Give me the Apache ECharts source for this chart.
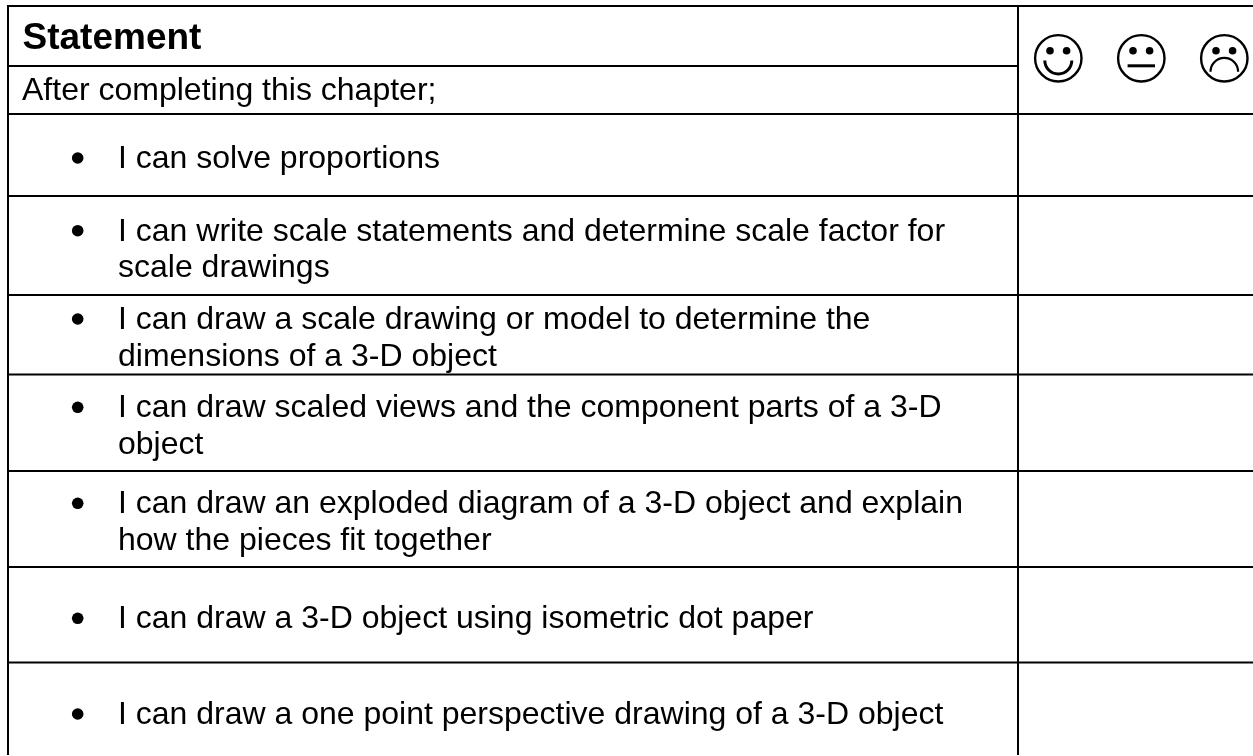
<!DOCTYPE html>
<html>
<head>
<meta charset="utf-8">
<style>html,body{margin:0;padding:0;background:#fff;overflow:hidden}#main{width:1253px;height:756px}</style>
<script src="https://cdn.jsdelivr.net/npm/echarts@6/dist/echarts.min.js"></script>
</head>
<body>
<div id="main"></div>
<script>
// table content
const headerTitle = 'Statement';
const headerSub = 'After completing this chapter;';
const statements = [
    ['I can solve proportions'],
    ['I can write scale statements and determine scale factor for', 'scale drawings'],
    ['I can draw a scale drawing or model to determine the', 'dimensions of a 3-D object'],
    ['I can draw scaled views and the component parts of a 3-D', 'object'],
    ['I can draw an exploded diagram of a 3-D object and explain', 'how the pieces fit together'],
    ['I can draw a 3-D object using isometric dot paper'],
    ['I can draw a one point perspective drawing of a 3-D object']
];
const faces = ['smile', 'neutral', 'frown'];
// where the rules and first text lines sit on the sheet
const ruleRows = [6, 114, 196, 295, 374.5, 471, 567, 662.5];
const ruleColumns = [8, 1018];
const firstBaselines = [168, 240.7, 329, 417.3, 513.3, 628.3, 724];

const chart = echarts.init(document.getElementById('main'), null, { renderer: 'canvas' });
const FONT = '"Liberation Sans", Arial, sans-serif';
const lineStyle = { stroke: '#000', lineWidth: 2 };

function textAt(api, x, baseline, str, size, weight) {
    const p = api.coord([x, baseline - size * 0.27]);
    return {
        type: 'text',
        style: { x: p[0], y: p[1], text: str, fill: '#000', font: (weight || 'normal') + ' ' + size + 'px ' + FONT, textAlign: 'left', textVerticalAlign: 'middle' }
    };
}

function hline(api, x1, x2, y) {
    const a = api.coord([x1, y]), b = api.coord([x2, y]);
    return { type: 'line', shape: { x1: a[0], y1: a[1], x2: b[0], y2: b[1] }, style: lineStyle };
}

function vline(api, x, y1, y2) {
    const a = api.coord([x, y1]), b = api.coord([x, y2]);
    return { type: 'line', shape: { x1: a[0], y1: a[1], x2: b[0], y2: b[1] }, style: lineStyle };
}

const option = {
    animation: false,
    grid: { left: 0, right: 0, top: 0, bottom: 0 },
    xAxis: { type: 'value', min: 0, max: 1253, show: false },
    yAxis: { type: 'value', min: 0, max: 756, inverse: true, show: false },
    series: [
        {
            // full width rules
            type: 'custom',
            silent: true,
            data: ruleRows.map(y => [y]),
            encode: { y: 0 },
            renderItem(params, api) {
                return hline(api, ruleColumns[0] - 1, 1253, api.value(0));
            }
        },
        {
            // vertical rules
            type: 'custom',
            silent: true,
            data: ruleColumns.map(x => [x]),
            encode: { x: 0 },
            renderItem(params, api) {
                return vline(api, api.value(0), ruleRows[0] - 1, 755);
            }
        },
        {
            // header text and the rule between the two header lines
            type: 'custom',
            silent: true,
            data: [[0]],
            renderItem(params, api) {
                return {
                    type: 'group',
                    children: [
                        hline(api, ruleColumns[0], ruleColumns[1], 66),
                        textAt(api, 22.5, 48.3, headerTitle, 37, 'bold'),
                        textAt(api, 22, 100, headerSub, 32)
                    ]
                };
            }
        },
        {
            // statement rows
            type: 'custom',
            silent: true,
            data: statements.map((s, i) => [i]),
            renderItem(params, api) {
                const i = api.value(0);
                const base = firstBaselines[i];
                const dot = api.coord([77.7, base - 10]);
                const children = [{ type: 'circle', shape: { cx: dot[0], cy: dot[1], r: 5.8 }, style: { fill: '#000' } }];
                statements[i].forEach((t, k) => {
                    children.push(textAt(api, 118, base + k * 36.5, t, 32));
                });
                return { type: 'group', children };
            }
        },
        {
            // smiley faces
            type: 'custom',
            silent: true,
            data: faces.map((f, i) => [i]),
            renderItem(params, api) {
                const i = api.value(0);
                const c = api.coord([1058.3 + i * 83, 58.3]);
                const cx = c[0], cy = c[1];
                const children = [
                    { type: 'circle', shape: { cx, cy, r: 23.2 }, style: { fill: '#fff', stroke: '#000', lineWidth: 2.4 } },
                    { type: 'circle', shape: { cx: cx - 8.3, cy: cy - 7.6, r: 3.8 }, style: { fill: '#000' } },
                    { type: 'circle', shape: { cx: cx + 8.3, cy: cy - 7.6, r: 3.8 }, style: { fill: '#000' } }
                ];
                if (faces[i] === 'smile') {
                    children.push({ type: 'arc', shape: { cx, cy: cy + 2.2, r: 13.5, startAngle: 0, endAngle: Math.PI }, style: { stroke: '#000', fill: 'none', lineWidth: 3 } });
                } else if (faces[i] === 'neutral') {
                    children.push({ type: 'line', shape: { x1: cx - 13.7, y1: cy + 7.5, x2: cx + 13.7, y2: cy + 7.5 }, style: { stroke: '#000', lineWidth: 3 } });
                } else {
                    children.push({ type: 'arc', shape: { cx, cy: cy + 13.4, r: 13.8, startAngle: Math.PI, endAngle: 2 * Math.PI }, style: { stroke: '#000', fill: 'none', lineWidth: 2.2 } });
                }
                return { type: 'group', children };
            }
        }
    ]
};
chart.setOption(option);
</script>
</body>
</html>
